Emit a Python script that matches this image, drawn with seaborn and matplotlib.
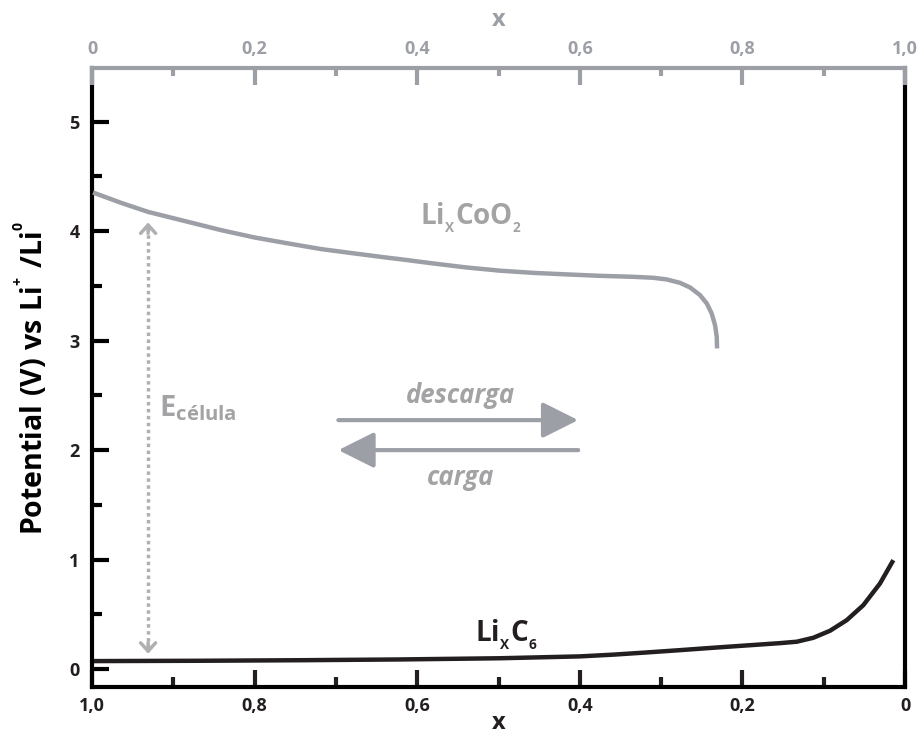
import matplotlib
matplotlib.use("Agg")
import matplotlib.pyplot as plt
import seaborn as sns
from matplotlib.ticker import MultipleLocator, FixedLocator

# LixCoO2 cathode curve (top axis: x from 0 to 1)
coo2_x = [0.0012, 0.0360, 0.0689, 0.1181, 0.1590, 0.2001, 0.2411, 0.2820, 0.3231,
          0.3641, 0.3788, 0.4198, 0.4609, 0.5018, 0.5428, 0.5839, 0.6248, 0.6658,
          0.6904, 0.7069, 0.7232, 0.7355, 0.7478, 0.7561, 0.7622, 0.7663, 0.7684,
          0.7688]
coo2_v = [4.353, 4.258, 4.176, 4.085, 4.009, 3.942, 3.888, 3.836, 3.796,
          3.757, 3.744, 3.705, 3.668, 3.639, 3.619, 3.605, 3.592, 3.583,
          3.574, 3.559, 3.528, 3.486, 3.416, 3.340, 3.248, 3.142, 3.035,
          2.929]

# LixC6 anode curve (bottom axis: x from 1 down to 0)
c6_x = [1.0, 0.8672, 0.7442, 0.6212, 0.4982, 0.3998, 0.3588, 0.3177, 0.2768,
        0.2358, 0.1947, 0.1538, 0.1332, 0.1128, 0.0923, 0.0717, 0.0513, 0.0308,
        0.0144]
c6_v = [0.073, 0.076, 0.081, 0.088, 0.099, 0.116, 0.132, 0.152, 0.173,
        0.195, 0.216, 0.237, 0.250, 0.286, 0.350, 0.447, 0.584, 0.782,
        0.995]

bottom_ticks = [1.0, 0.8, 0.6, 0.4, 0.2, 0.0]
bottom_labels = ["1,0", "0,8", "0,6", "0,4", "0,2", "0"]
top_ticks = [0.0, 0.2, 0.4, 0.6, 0.8, 1.0]
top_labels = ["0", "0,2", "0,4", "0,6", "0,8", "1,0"]
y_ticks = [0, 1, 2, 3, 4, 5]

sns.set_style("white")
plt.rcParams["font.family"] = ["Open Sans", "DejaVu Sans"]
plt.rcParams["font.weight"] = "bold"
plt.rcParams["mathtext.fontset"] = "custom"
plt.rcParams["mathtext.rm"] = "Open Sans"
plt.rcParams["mathtext.bf"] = "Open Sans:bold"
plt.rcParams["mathtext.it"] = "Open Sans:italic:bold"
plt.rcParams["lines.solid_capstyle"] = "butt"

GRAY = "#9d9fa7"
TXT_GRAY = "#a3a3a5"
DOT_GRAY = "#b0b0b2"
BLACK = "#231f20"

fig = plt.figure(figsize=(9.22, 7.33), dpi=100)
ax = fig.add_axes([0.0998, 0.0627, 0.8818, 0.8445])
ax_top = ax.twiny()

sns.lineplot(x=c6_x, y=c6_v, ax=ax, color=BLACK, lw=3.2, sort=False)
sns.lineplot(x=coo2_x, y=coo2_v, ax=ax_top, color=GRAY, lw=3.2, sort=False)

ax.set_xlim(1.0, 0.0)
ax_top.set_xlim(0.0, 1.0)
ax.set_ylim(-0.164, 5.49)

# spines
for s in ["left", "bottom", "right"]:
    ax.spines[s].set_color("black")
    ax.spines[s].set_linewidth(3)
ax.spines["top"].set_visible(False)
for s in ["left", "bottom", "right"]:
    ax_top.spines[s].set_visible(False)
ax_top.spines["top"].set_color(GRAY)
ax_top.spines["top"].set_linewidth(3)

# bottom / left ticks
ax.xaxis.set_major_locator(FixedLocator(bottom_ticks))
ax.set_xticklabels(bottom_labels)
ax.xaxis.set_minor_locator(MultipleLocator(0.1))
ax.yaxis.set_major_locator(FixedLocator(y_ticks))
ax.yaxis.set_minor_locator(MultipleLocator(0.5))
ax.tick_params(axis="x", which="both", direction="in", bottom=True, top=False,
               width=3, color=BLACK, labelsize=13, pad=7, labelcolor=BLACK)
ax.tick_params(axis="x", which="major", length=12)
ax.tick_params(axis="x", which="minor", length=7)
ax.tick_params(axis="y", which="both", direction="in", left=True, right=False,
               width=3, color="black", labelsize=13, pad=9, labelcolor=BLACK)
ax.tick_params(axis="y", which="major", length=12)
ax.tick_params(axis="y", which="minor", length=7)

# top ticks
ax_top.xaxis.set_major_locator(FixedLocator(top_ticks))
ax_top.set_xticklabels(top_labels)
ax_top.xaxis.set_minor_locator(MultipleLocator(0.1))
ax_top.tick_params(axis="x", which="both", direction="in", top=True, bottom=False,
                   width=3, color=GRAY, labelsize=13, pad=7, labelcolor=GRAY)
ax_top.tick_params(axis="x", which="major", length=12)
ax_top.tick_params(axis="x", which="minor", length=6)

for lab in ax.get_xticklabels() + ax.get_yticklabels() + ax_top.get_xticklabels():
    lab.set_fontweight("bold")

ax.set_xlabel("x", fontsize=17, fontweight="bold", color=BLACK, labelpad=-3)
ax_top.set_xlabel("x", fontsize=17, fontweight="bold", color=GRAY, labelpad=10)
ax.set_ylabel(r"$\mathbf{Potential\ (V)\ vs\ Li^{{}^{+}}\ /Li^{{}^{0}}}$",
              fontsize=20.5, color="black", labelpad=14)

# curve labels
ax.text(0.597, 4.12, r"$\mathbf{Li_{{}_{X}}CoO_{{}_{2}}}$", fontsize=20,
        color=TXT_GRAY, ha="left", va="center")
ax.text(0.529, 0.31, r"$\mathbf{Li_{{}_{X}}C_{{}_{6}}}$", fontsize=20,
        color=BLACK, ha="left", va="center")
ax.text(0.918, 2.38, r"$\mathbf{E_{célula}}$", fontsize=21, color=TXT_GRAY,
        ha="left", va="center")

# discharge / charge arrows
arrow_style = "-|>,head_length=1.1,head_width=0.55"
ax.annotate("", xy=(0.402, 2.274), xytext=(0.697, 2.274),
            arrowprops=dict(arrowstyle=arrow_style, color=GRAY, lw=3,
                            mutation_scale=20, shrinkA=0, shrinkB=0))
ax.annotate("", xy=(0.697, 2.0), xytext=(0.402, 2.0),
            arrowprops=dict(arrowstyle=arrow_style, color=GRAY, lw=3,
                            mutation_scale=20, shrinkA=0, shrinkB=0))
ax.text(0.547, 2.50, "descarga", fontsize=18.5, style="italic", fontweight="bold",
        color=TXT_GRAY, ha="center", va="center")
ax.text(0.547, 1.75, "carga", fontsize=18.5, style="italic", fontweight="bold",
        color=TXT_GRAY, ha="center", va="center")

# cell voltage marker: dotted vertical line with open heads
ax.plot([0.931, 0.931], [0.19, 4.03], color=DOT_GRAY, lw=2.5,
        linestyle=(0, (1, 1)))
ax.annotate("", xy=(0.931, 4.08), xytext=(0.931, 3.98),
            arrowprops=dict(arrowstyle="->,head_length=0.5,head_width=0.45",
                            color=DOT_GRAY, lw=2.5, mutation_scale=12,
                            shrinkA=0, shrinkB=0))
ax.annotate("", xy=(0.931, 0.14), xytext=(0.931, 0.24),
            arrowprops=dict(arrowstyle="->,head_length=0.5,head_width=0.45",
                            color=DOT_GRAY, lw=2.5, mutation_scale=12,
                            shrinkA=0, shrinkB=0))

fig.savefig("out.png", dpi=100)
